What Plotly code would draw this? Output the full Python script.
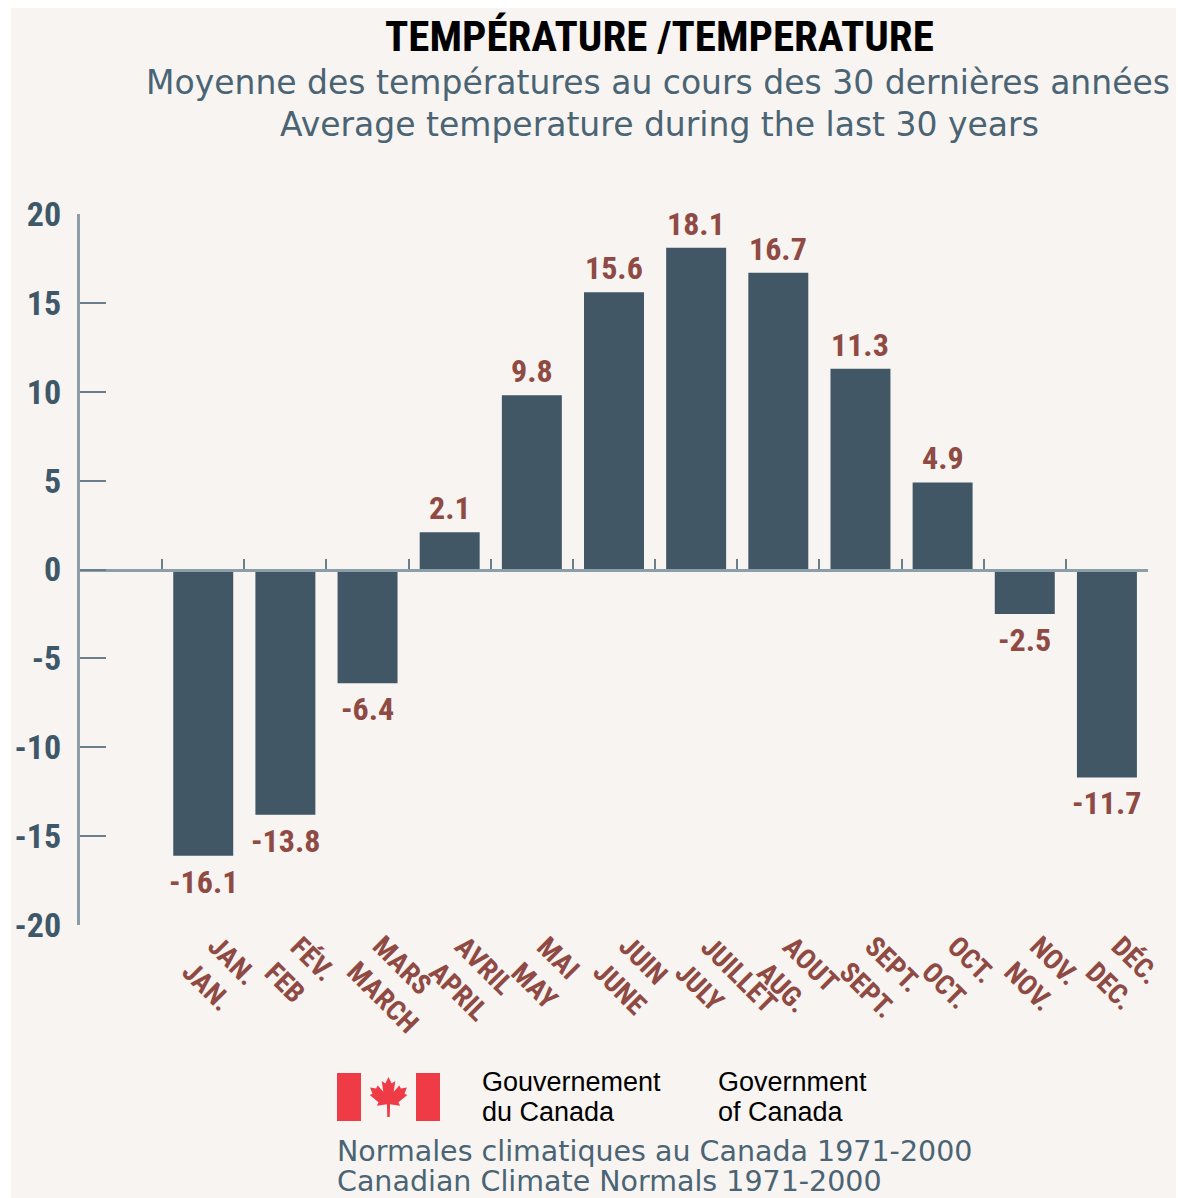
import plotly.graph_objects as go

# ---------------- data ----------------
months_fr = ["JAN.", "FÉV.", "MARS", "AVRIL", "MAI", "JUIN", "JUILLET", "AOUT", "SEPT.", "OCT.", "NOV.", "DÉC."]
months_en = ["JAN.", "FEB", "MARCH", "APRIL", "MAY", "JUNE", "JULY", "AUG.", "SEPT.", "OCT.", "NOV.", "DEC."]
temps = [-16.1, -13.8, -6.4, 2.1, 9.8, 15.6, 18.1, 16.7, 11.3, 4.9, -2.5, -11.7]
y_ticks = [-20, -15, -10, -5, 0, 5, 10, 15, 20]

title_text = "TEMPÉRATURE /TEMPERATURE"
subtitle_fr = "Moyenne des températures au cours des 30 dernières années"
subtitle_en = "Average temperature during the last 30 years"
gov_fr = ["Gouvernement", "du Canada"]
gov_en = ["Government", "of Canada"]
source_fr = "Normales climatiques au Canada 1971-2000"
source_en = "Canadian Climate Normals 1971-2000"

# ---------------- style ----------------
W, H = 1178, 1198
ML, MR, MT, MB = 80, 30, 214, 273
PW = W - ML - MR
PH = H - MT - MB

BG = "#F7F4F1"
BAR = "#415766"
LABEL = "#8E4A43"
TICKTXT = "#3F5869"
AXIS = "#8C9EA8"
TICKC = "#6B7F8B"
SUB = "#4B6474"
RED = "#EE3B45"

COND = "Roboto Condensed, DejaVu Sans Condensed, Liberation Sans Narrow, sans-serif"
WIDE = "DejaVu Sans, Verdana, sans-serif"
HELV = "Liberation Sans, Arial, sans-serif"


def px(x):
    return (x - ML) / PW


def py(y):
    return 1 - (y - MT) / PH


fig = go.Figure()

fig.add_trace(go.Bar(
    x=list(range(len(temps))), y=temps, width=0.73,
    marker=dict(color=BAR, line=dict(width=0)),
    hoverinfo="skip", showlegend=False,
))

annotations = []
# value labels
for i, v in enumerate(temps):
    annotations.append(dict(
        x=i, y=v, xref="x", yref="y", text=f"{v:.1f}", showarrow=False,
        yanchor="bottom" if v > 0 else "top", yshift=3 if v > 0 else -5,
        font=dict(family=COND, size=32, color=LABEL, weight="bold"),
    ))
# month labels (rotated, bilingual)
for i, (fr, en) in enumerate(zip(months_fr, months_en)):
    annotations.append(dict(
        x=i, y=y_ticks[0], xref="x", yref="y", text=f"{fr}<br>{en}", showarrow=False,
        textangle=45, align="left", xanchor="left", yanchor="top",
        xshift=-30, yshift=-2,
        font=dict(family=COND, size=28, color=LABEL, weight="bold"),
    ))

# titles
annotations += [
    dict(x=px(659), y=py(36), xref="paper", yref="paper", text=title_text, showarrow=False,
         xanchor="center", yanchor="middle",
         font=dict(family=COND, size=43, color="#000000", weight="bold")),
    dict(x=px(658), y=py(82), xref="paper", yref="paper", text=subtitle_fr, showarrow=False,
         xanchor="center", yanchor="middle",
         font=dict(family=WIDE, size=33, color=SUB)),
    dict(x=px(659), y=py(124), xref="paper", yref="paper", text=subtitle_en, showarrow=False,
         xanchor="center", yanchor="middle",
         font=dict(family=WIDE, size=33, color=SUB)),
]
for k, (lf, le) in enumerate(zip(gov_fr, gov_en)):
    yy = 1082 + 30 * k
    annotations.append(dict(x=px(480), y=py(yy), xref="paper", yref="paper", text=lf,
                            showarrow=False, xanchor="left", yanchor="middle",
                            font=dict(family=HELV, size=27, color="#000000")))
    annotations.append(dict(x=px(716), y=py(yy), xref="paper", yref="paper", text=le,
                            showarrow=False, xanchor="left", yanchor="middle",
                            font=dict(family=HELV, size=27, color="#000000")))
annotations += [
    dict(x=px(335), y=py(1151), xref="paper", yref="paper", text=source_fr, showarrow=False,
         xanchor="left", yanchor="middle",
         font=dict(family=WIDE, size=28.5, color=SUB)),
    dict(x=px(335), y=py(1181), xref="paper", yref="paper", text=source_en, showarrow=False,
         xanchor="left", yanchor="middle",
         font=dict(family=WIDE, size=28.5, color=SUB)),
]

# ---------------- shapes (background panel + flag) ----------------
shapes = [
    dict(type="rect", xref="paper", yref="paper", x0=px(11), x1=px(1176), y0=py(1200), y1=py(8),
         fillcolor=BG, line=dict(width=0), layer="below"),
    dict(type="rect", xref="paper", yref="paper", x0=px(337), x1=px(361), y0=py(1121), y1=py(1073),
         fillcolor=RED, line=dict(width=0)),
    dict(type="rect", xref="paper", yref="paper", x0=px(416), x1=px(440), y0=py(1121), y1=py(1073),
         fillcolor=RED, line=dict(width=0)),
]

# maple leaf polygon (unit coords, y up), mirrored
half = [(0.0, 0.5), (0.08, 0.34), (0.17, 0.40), (0.13, 0.13), (0.27, 0.29), (0.31, 0.21),
        (0.46, 0.24), (0.40, 0.08), (0.47, 0.05), (0.25, -0.13), (0.29, -0.22), (0.04, -0.18),
        (0.03, -0.5)]
leaf = half + [(-x, y) for (x, y) in reversed(half)]
cx, cy, s = 388.5, 1097, 40
path = "M " + " L ".join(f"{px(cx + x * s):.5f},{py(cy - y * s):.5f}" for x, y in leaf) + " Z"
shapes.append(dict(type="path", xref="paper", yref="paper", path=path,
                   fillcolor=RED, line=dict(width=0)))

fig.update_layout(
    width=W, height=H,
    margin=dict(l=ML, r=MR, t=MT, b=MB, autoexpand=False),
    paper_bgcolor="#FFFFFF",
    plot_bgcolor="rgba(0,0,0,0)",
    showlegend=False,
    annotations=annotations,
    shapes=shapes,
    xaxis=dict(
        range=[-1.5, len(temps) - 0.5], anchor="free", position=0.5,
        showline=True, linecolor=AXIS, linewidth=3,
        ticks="inside", tickmode="array",
        tickvals=[k - 0.5 for k in range(len(temps) + 1)],
        ticklen=10, tickwidth=2, tickcolor=TICKC,
        showticklabels=False, showgrid=False, zeroline=False, fixedrange=True,
    ),
    yaxis=dict(
        range=[y_ticks[0], y_ticks[-1]], domain=[0, 1],
        tickmode="array", tickvals=y_ticks, ticktext=[str(t) for t in y_ticks],
        ticks="inside", ticklen=26, tickwidth=2, tickcolor=TICKC,
        showline=True, linecolor=AXIS, linewidth=3,
        showgrid=False, zeroline=False, fixedrange=True,
        ticklabelstandoff=9,
        tickfont=dict(family=COND, size=34, color=TICKTXT, weight="bold"),
    ),
)

fig.write_html("out.html")
